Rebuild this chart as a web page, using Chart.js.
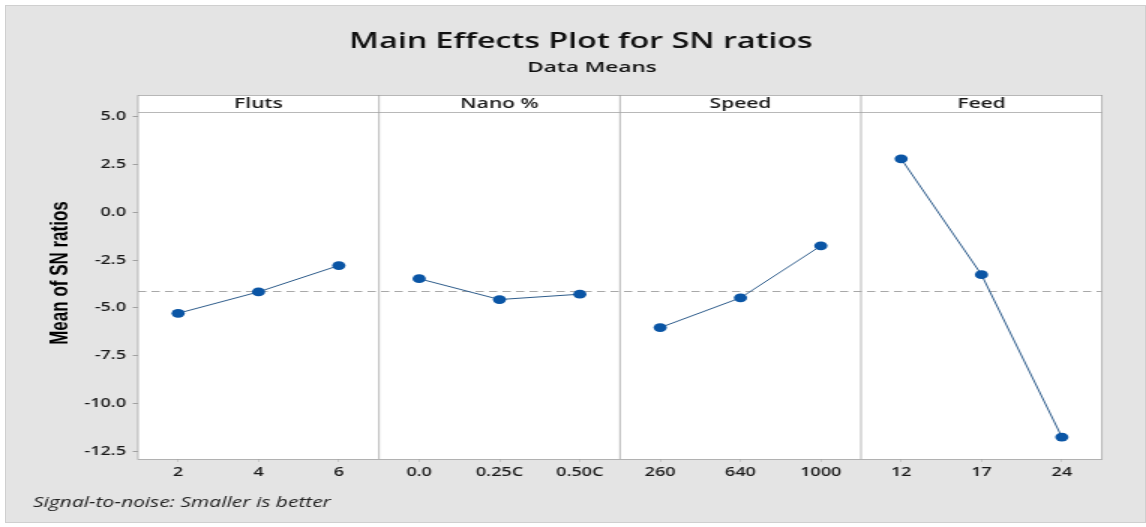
<!DOCTYPE html>
<html>
<head>
<meta charset="utf-8">
<script src="https://cdn.jsdelivr.net/npm/chart.js@4.4.1/dist/chart.umd.min.js"></script>
<style>
  html, body { margin: 0; padding: 0; background: #fff; overflow: hidden; }
  #frame { position: absolute; left: 5px; top: 5px; width: 1139px; height: 516px; background: #e4e4e4; border: 1px solid #cfcfcf; }
  /* the original picture is stretched sideways, so draw narrow and widen */
  #chart { position: absolute; left: 0; top: 0; transform: scaleX(1.5); transform-origin: 0 0; }
</style>
</head>
<body>
<div id="frame"></div>
<canvas id="chart" width="764" height="527"></canvas>
<script>
// factors and their levels
const factorNames = ['Fluts', 'Nano %', 'Speed', 'Feed'];
const flutsLevels = ['2', '4', '6'];
const nanoLevels = ['0.0', '0.25C', '0.50C'];
const speedLevels = ['260', '640', '1000'];
const feedLevels = ['12', '17', '24'];

// mean of SN ratios per level
const flutsMeans = [-5.28, -4.16, -2.78];
const nanoMeans = [-3.47, -4.56, -4.28];
const speedMeans = [-6.03, -4.47, -1.75];
const feedMeans = [2.81, -3.26, -11.76];
const grandMean = -4.13;

const yTicks = [5.0, 2.5, 0.0, -2.5, -5.0, -7.5, -10.0, -12.5];

const levelGroups = [flutsLevels, nanoLevels, speedLevels, feedLevels];
const meanGroups = [flutsMeans, nanoMeans, speedMeans, feedMeans];
const labels = levelGroups.flat();

const SX = 1.5;           // horizontal stretch applied by css
const HEADER_H = 17;
const GRID = '#a0a0a0';
const FONT = '"Open Sans", "Noto Sans", sans-serif';

// one dataset per panel, nulls outside its own panel
const datasets = meanGroups.map((vals, i) => {
  const data = labels.map(() => null);
  vals.forEach((v, j) => { data[i * 3 + j] = v; });
  return {
    label: factorNames[i],
    data: data,
    borderColor: '#2f5d8c',
    borderWidth: 1,
    pointBackgroundColor: '#0a55a5',
    pointBorderColor: '#0a55a5',
    pointBorderWidth: 0,
    pointRadius: 4.4,
    pointHoverRadius: 4.4,
    spanGaps: false,
    tension: 0
  };
});

// texts, plot background, panel headers, separators, mean line
const panelPlugin = {
  id: 'panels',
  beforeDraw(chart) {
    const { ctx, chartArea: a, scales: { x } } = chart;
    ctx.save();
    ctx.fillStyle = '#fff';
    ctx.fillRect(a.left, a.top - HEADER_H, a.right - a.left, a.bottom - a.top + HEADER_H);

    ctx.textAlign = 'center';
    ctx.textBaseline = 'middle';

    // title and subtitle
    ctx.fillStyle = '#111';
    ctx.font = '600 21.5px ' + FONT;
    ctx.fillText('Main Effects Plot for SN ratios', 581 / SX, 42);
    ctx.font = '600 15px ' + FONT;
    ctx.fillText('Data Means', 592 / SX, 68);

    // panel titles
    ctx.fillStyle = '#1a1a1a';
    ctx.font = '600 14px ' + FONT;
    factorNames.forEach((name, i) => {
      ctx.fillText(name, x.getPixelForValue(i * 3 + 1), a.top - HEADER_H / 2 + 1);
    });

    // y axis title
    ctx.save();
    ctx.translate(60 / SX, 273);
    ctx.rotate(-Math.PI / 2);
    ctx.fillStyle = '#000';
    ctx.font = 'bold 17px "Liberation Sans", Arial, sans-serif';
    ctx.fillText('Mean of SN ratios', 0, 0);
    ctx.restore();

    // footnote
    ctx.font = 'italic 14px ' + FONT;
    ctx.textAlign = 'left';
    ctx.fillStyle = '#222';
    ctx.fillText('Signal-to-noise: Smaller is better', 33 / SX, 503);
    ctx.restore();
  },
  beforeDatasetsDraw(chart) {
    const { ctx, chartArea: a, scales: { x, y } } = chart;
    ctx.save();
    // reference line at the overall mean
    ctx.strokeStyle = '#a8a8a8';
    ctx.lineWidth = 1;
    ctx.setLineDash([5.5, 3.5]);
    const ym = Math.round(y.getPixelForValue(grandMean)) + 0.5;
    ctx.beginPath();
    ctx.moveTo(a.left, ym);
    ctx.lineTo(a.right, ym);
    ctx.stroke();
    ctx.setLineDash([]);

    // frame, header strip and separators
    ctx.strokeStyle = GRID;
    ctx.lineWidth = 0.75;
    ctx.strokeRect(a.left, Math.round(a.top - HEADER_H) + 0.5, a.right - a.left, Math.round(a.bottom - a.top + HEADER_H));
    ctx.beginPath();
    ctx.moveTo(a.left, Math.round(a.top) + 0.5);
    ctx.lineTo(a.right, Math.round(a.top) + 0.5);
    for (let k = 1; k < factorNames.length; k++) {
      const xs = (x.getPixelForValue(k * 3 - 1) + x.getPixelForValue(k * 3)) / 2;
      ctx.moveTo(xs, a.top - HEADER_H);
      ctx.lineTo(xs, a.bottom);
    }
    ctx.stroke();
    ctx.restore();
  }
};

new Chart(document.getElementById('chart'), {
  type: 'line',
  data: { labels: labels, datasets: datasets },
  options: {
    responsive: false,
    animation: false,
    devicePixelRatio: 1,
    layout: { padding: { left: 0, right: 764 - 1102 / SX, top: 112, bottom: 0 } },
    plugins: {
      legend: { display: false },
      tooltip: { enabled: false },
      title: { display: false },
      subtitle: { display: false }
    },
    scales: {
      x: {
        type: 'category',
        offset: true,
        afterFit(scale) { scale.height = 68; },
        grid: { offset: false, drawOnChartArea: false, drawTicks: true, tickLength: 3, color: '#c8c8c8' },
        border: { display: false },
        ticks: {
          color: '#1a1a1a',
          padding: 3,
          maxRotation: 0,
          autoSkip: false,
          font: { family: FONT, size: 12, weight: 600 }
        }
      },
      y: {
        min: -12.91,
        max: 5.26,
        afterFit(scale) { scale.width = 138 / SX; },
        afterBuildTicks(scale) { scale.ticks = yTicks.map(v => ({ value: v })); },
        grid: { drawOnChartArea: false, drawTicks: true, tickLength: 3.5, color: GRID },
        border: { display: false },
        ticks: {
          color: '#1a1a1a',
          padding: 4.5,
          font: { family: FONT, size: 12, weight: 600 },
          callback: v => v.toFixed(1)
        },
        title: { display: false }
      }
    }
  },
  plugins: [panelPlugin]
});
</script>
</body>
</html>
